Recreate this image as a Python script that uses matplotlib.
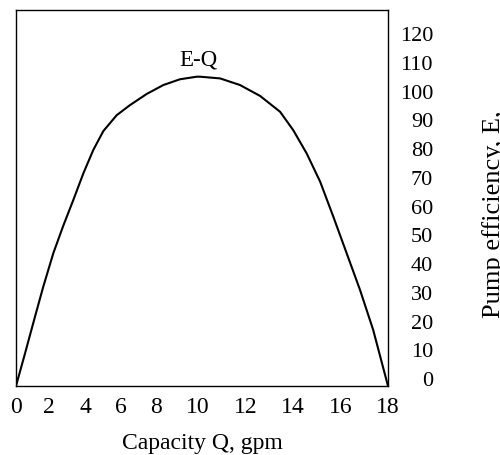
import numpy as np
import matplotlib
matplotlib.use("Agg")
from matplotlib import pyplot as plt

# capacity Q (gpm) and pump efficiency E
capacity = [0, 0.55, 1.15, 1.65, 2.24, 2.79, 3.35, 3.91, 4.46, 5.02, 5.76, 6.51,
            7.47, 8.35, 9.14, 9.94, 10.08, 10.92, 11.75, 12.60, 13.45, 14.01,
            14.57, 15.13, 15.68, 16.24, 16.81, 17.37, 18]
efficiency = [0, 11.4, 24.1, 34.5, 46.2, 55.7, 64.7, 74.0, 82.1, 88.7, 94.2, 97.7,
              101.6, 104.7, 106.7, 107.6, 107.6, 107.0, 104.7, 100.9, 95.4, 89.0,
              80.9, 71.1, 58.9, 46.2, 33.4, 19.5, 0]

x_ticks = [0, 2, 4, 6, 8, 10, 12, 14, 16, 18]
y_ticks = [0, 10, 20, 30, 40, 50, 60, 70, 80, 90, 100, 110, 120]

# the printed Q axis is not evenly divided: where each tick sits along it
x_tick_pos = [16, 49, 85, 121, 156, 198, 246, 293, 341, 388]


def q_fwd(q):
    return np.interp(q, x_ticks, x_tick_pos)


def q_inv(p):
    return np.interp(p, x_tick_pos, x_ticks)


plt.rcParams['font.family'] = ['Liberation Serif', 'DejaVu Serif']

fig = plt.figure(figsize=(5, 4.55), dpi=100)
ax = fig.add_axes([16 / 500, 69 / 455, 372 / 500, 376 / 455])

ax.set_xscale('function', functions=(q_fwd, q_inv))
ax.plot(capacity, efficiency, color='black', lw=1.5)
ax.set_xlim(0, 18)
ax.set_ylim(0, 130.8)

ax.set_xticks(x_ticks)
ax.set_xticklabels([str(t) for t in x_ticks])
ax.set_yticks(y_ticks)
ax.set_yticklabels([str(t) for t in y_ticks])
ax.minorticks_off()
ax.yaxis.tick_right()
ax.tick_params(axis='x', length=0, pad=8, labelsize=17)
ax.tick_params(axis='y', length=0, pad=32.4, labelsize=16)
plt.setp(ax.get_yticklabels(), ha='right', va='baseline')

for s in ax.spines.values():
    s.set_linewidth(1.0)

ax.set_xlabel('Capacity Q, gpm', fontsize=17, labelpad=11)

i_peak = int(np.argmax(efficiency))
ax.annotate('E-Q', xy=(capacity[i_peak], efficiency[i_peak]), xytext=(1, 12),
            textcoords='offset points', ha='center', va='center', fontsize=16.5)

fig.text(482 / 500, (455 - 318) / 455, 'Pump efficiency, E,', rotation=90,
         ha='left', va='bottom', fontsize=19)

fig.savefig('out.png', dpi=100)
